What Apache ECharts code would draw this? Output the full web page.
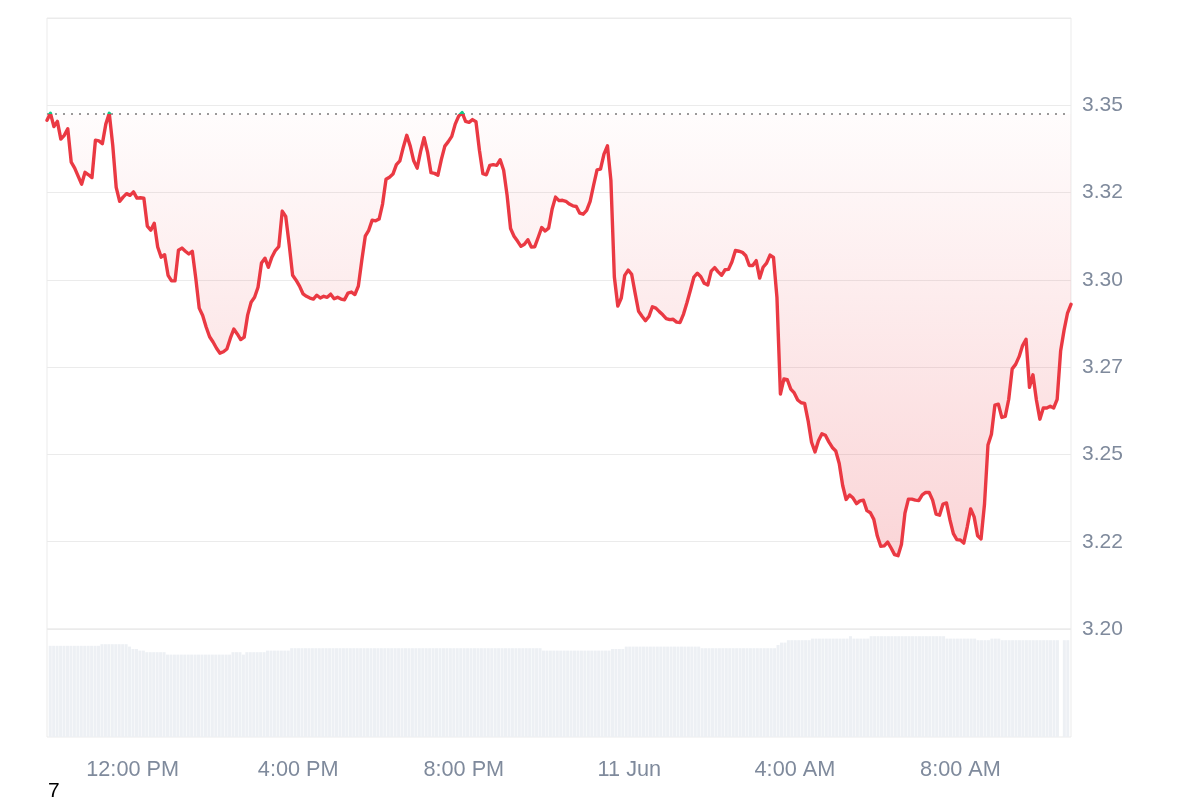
<!DOCTYPE html>
<html>
<head>
<meta charset="utf-8">
<script src="https://cdn.jsdelivr.net/npm/echarts@6/dist/echarts.min.js"></script>
<style>
html,body{margin:0;padding:0;background:#ffffff;}
#chart{width:1200px;height:800px;}
</style>
</head>
<body>
<div id="chart"></div>
<script>
// ---- data ----
const startTime = new Date(2024, 5, 10, 9, 58).getTime();
const stepMinutes = 5;
const basePrice = 3.3475;

const priceValues = [
  3.3457,3.3477,3.3439,3.3454,3.3403,3.3414,3.3433,3.3337,3.3320,3.3297,
  3.3274,3.3308,3.3301,3.3293,3.3400,3.3398,3.3390,3.3446,3.3477,3.3386,
  3.3265,3.3225,3.3237,3.3247,3.3242,3.3252,3.3234,3.3235,3.3234,3.3154,
  3.3142,3.3162,3.3094,3.3065,3.3072,3.3013,3.2997,3.2997,3.3085,3.3091,
  3.3082,3.3074,3.3082,3.3005,3.2919,3.2898,3.2865,3.2837,3.2822,3.2804,
  3.2790,3.2794,3.2802,3.2833,3.2859,3.2845,3.2829,3.2836,3.2899,3.2936,
  3.2950,3.2979,3.3048,3.3062,3.3036,3.3065,3.3084,3.3095,3.3197,3.3182,
  3.3102,3.3013,3.2999,3.2982,3.2960,3.2953,3.2948,3.2945,3.2956,3.2948,
  3.2953,3.2950,3.2959,3.2946,3.2950,3.2945,3.2943,3.2962,3.2965,3.2958,
  3.2982,3.3056,3.3125,3.3142,3.3171,3.3169,3.3174,3.3217,3.3288,3.3294,
  3.3303,3.3330,3.3341,3.3380,3.3414,3.3383,3.3341,3.3320,3.3368,3.3407,
  3.3366,3.3307,3.3305,3.3300,3.3345,3.3383,3.3396,3.3411,3.3446,3.3469,
  3.3479,3.3454,3.3451,3.3459,3.3453,3.3371,3.3304,3.3301,3.3328,3.3330,
  3.3328,3.3344,3.3314,3.3242,3.3147,3.3125,3.3111,3.3096,3.3102,3.3115,
  3.3094,3.3095,3.3122,3.3150,3.3140,3.3148,3.3202,3.3237,3.3227,3.3228,
  3.3225,3.3217,3.3212,3.3210,3.3191,3.3188,3.3199,3.3225,3.3271,3.3315,
  3.3317,3.3360,3.3384,3.3285,3.3008,3.2925,3.2948,3.3013,3.3028,3.3016,
  3.2962,3.2910,3.2896,3.2883,3.2895,3.2923,3.2919,3.2909,3.2900,3.2889,
  3.2886,3.2887,3.2879,3.2878,3.2902,3.2935,3.2971,3.3008,3.3019,3.3009,
  3.2990,3.2985,3.3025,3.3035,3.3023,3.3013,3.3029,3.3030,3.3052,3.3084,
  3.3082,3.3079,3.3069,3.3041,3.3041,3.3055,3.3005,3.3036,3.3048,3.3071,
  3.3064,3.2950,3.2673,3.2716,3.2714,3.2687,3.2676,3.2656,3.2648,3.2646,
  3.2597,3.2535,3.2507,3.2539,3.2559,3.2555,3.2536,3.2520,3.2510,3.2474,
  3.2411,3.2371,3.2384,3.2375,3.2359,3.2367,3.2369,3.2339,3.2333,3.2314,
  3.2267,3.2237,3.2238,3.2249,3.2232,3.2213,3.2210,3.2243,3.2332,3.2372,
  3.2372,3.2369,3.2368,3.2384,3.2391,3.2391,3.2369,3.2329,3.2326,3.2358,
  3.2361,3.2313,3.2273,3.2256,3.2255,3.2246,3.2292,3.2344,3.2321,3.2267,
  3.2258,3.2358,3.2527,3.2558,3.2641,3.2644,3.2606,3.2609,3.2658,3.2745,
  3.2758,3.2780,3.2812,3.2830,3.2692,3.2728,3.2656,3.2601,3.2633,3.2633,
  3.2638,3.2633,3.2658,3.2796,3.2856,3.2905,3.2930
];

// volume (millions), one bar per 5-minute interval
const volumeValues = [
  114,114,114,114,114,114,114,114,114,114,
  114,114,114,114,114,116,116,116,116,116,
  116,116,116,113,110,110,108,108,106,106,
  106,106,106,106,103,103,103,103,103,103,
  103,103,103,103,103,103,103,103,103,103,
  103,103,103,106,106,106,103,106,106,106,
  106,106,106,108,108,108,108,108,108,108,
  111,111,111,111,111,111,111,111,111,111,
  111,111,111,111,111,111,111,111,111,111,
  111,111,111,111,111,111,111,111,111,111,
  111,111,111,111,111,111,111,111,111,111,
  111,111,111,111,111,111,111,111,111,111,
  111,111,111,111,111,111,111,111,111,111,
  111,111,111,111,111,111,111,111,111,111,
  111,111,111,108,108,108,108,108,108,108,
  108,108,108,108,108,108,108,108,108,108,
  108,108,108,110,110,110,110,113,113,113,
  113,113,113,113,113,113,113,113,113,113,
  113,113,113,113,113,113,113,113,113,111,
  111,111,111,111,111,111,111,111,111,111,
  111,111,111,111,111,111,111,111,111,111,
  111,115,118,118,121,121,121,121,121,121,
  121,123,123,123,123,123,123,123,123,123,
  123,123,126,123,123,123,123,123,126,126,
  126,126,126,126,126,126,126,126,126,126,
  126,126,126,126,126,126,126,126,126,126,
  123,123,123,123,123,123,123,123,123,121,
  121,121,121,123,123,123,121,121,121,121,
  121,121,121,121,121,121,121,121,121,121,
  121,121,121,null,121,121
];

const yTickValues = [3.20, 3.225, 3.25, 3.275, 3.30, 3.325, 3.35];
const yTickLabels = ['3.20', '3.22', '3.25', '3.27', '3.30', '3.32', '3.35'];
const monthNames = ['Jan','Feb','Mar','Apr','May','Jun','Jul','Aug','Sep','Oct','Nov','Dec'];
const cornerNote = '7';

// ---- build series data ----
const stepMs = stepMinutes * 60 * 1000;
const priceData = priceValues.map((v, i) => [startTime + i * stepMs, v]);
const volumeData = volumeValues.map((v, i) => [startTime + (i + 0.5) * stepMs, v]);
const endTime = startTime + (priceValues.length - 1) * stepMs;

const RED = '#ea3943';
const GREEN = '#16c784';
const LABEL_COLOR = '#7f8a9c';
const FONT = '"Liberation Sans", Arial, Helvetica, sans-serif';
const GRID_LINE = '#ebebeb';

function timeLabel(value) {
  const d = new Date(value);
  if (d.getMinutes() !== 0 || d.getHours() % 4 !== 0) return '';
  const h = d.getHours();
  if (h === 0) return d.getDate() + ' ' + monthNames[d.getMonth()];
  const h12 = h % 12 === 0 ? 12 : h % 12;
  return h12 + ':00 ' + (h < 12 ? 'AM' : 'PM');
}

function priceLabel(value) {
  for (let i = 0; i < yTickValues.length; i++) {
    if (Math.abs(value - yTickValues[i]) < 1e-6) return yTickLabels[i];
  }
  return '';
}

const chart = echarts.init(document.getElementById('chart'), null, { renderer: 'canvas' });

chart.setOption({
  animation: false,
  backgroundColor: '#ffffff',
  grid: [
    { left: 47, right: 129, top: 18, height: 611, show: true, borderColor: GRID_LINE, borderWidth: 1, backgroundColor: 'transparent' },
    { left: 47, right: 129, top: 629, height: 108, show: true, borderColor: GRID_LINE, borderWidth: 1, backgroundColor: 'transparent' }
  ],
  xAxis: [
    {
      type: 'time', gridIndex: 0, min: startTime, max: endTime,
      axisLine: { show: false }, axisTick: { show: false },
      axisLabel: { show: false }, splitLine: { show: false }
    },
    {
      type: 'time', gridIndex: 1, min: startTime, max: endTime,
      axisLine: { show: false }, axisTick: { show: false },
      splitLine: { show: false },
      axisLabel: {
        show: true, color: LABEL_COLOR, fontSize: 21.7, fontFamily: FONT,
        margin: 22, formatter: timeLabel, hideOverlap: false
      }
    }
  ],
  yAxis: [
    {
      type: 'value', gridIndex: 0, position: 'right',
      min: 3.2, max: 3.375, interval: 0.025,
      axisLine: { show: false }, axisTick: { show: false },
      splitLine: { show: true, lineStyle: { color: GRID_LINE, width: 1 } },
      axisLabel: {
        color: LABEL_COLOR, fontSize: 21, fontFamily: FONT, margin: 11,
        padding: [3, 0, 0, 0], formatter: priceLabel
      }
    },
    {
      type: 'value', gridIndex: 1, min: 0, max: 135,
      show: false
    }
  ],
  visualMap: {
    type: 'piecewise', show: false, seriesIndex: 0, dimension: 1,
    pieces: [
      { gt: basePrice, lte: 4, color: GREEN },
      { gte: 3, lte: basePrice, color: RED }
    ],
    outOfRange: { color: RED }
  },
  series: [
    {
      type: 'line', xAxisIndex: 0, yAxisIndex: 0,
      data: priceData,
      showSymbol: false, symbol: 'none',
      z: 5,
      lineStyle: { width: 3.4, join: 'round', cap: 'round' },
      areaStyle: {
        origin: basePrice,
        color: new echarts.graphic.LinearGradient(0, 0, 0, 1, [
          { offset: 0, color: 'rgba(234,57,67,0.02)' },
          { offset: 1, color: 'rgba(234,57,67,0.30)' }
        ])
      },
      markLine: {
        silent: true, symbol: ['none', 'none'],
        precision: 6,
        label: { show: false },
        lineStyle: { color: '#9a9a9a', type: [2, 6], width: 2 },
        data: [{ yAxis: basePrice }]
      }
    },
    {
      type: 'bar', xAxisIndex: 1, yAxisIndex: 1,
      data: volumeData,
      barWidth: 3,
      itemStyle: { color: '#edf0f4' },
      silent: true
    }
  ],
  graphic: [
    {
      type: 'text', left: 48, top: 781,
      style: { text: cornerNote, fill: '#000000', font: '21px ' + FONT }
    }
  ]
});
</script>
</body>
</html>
